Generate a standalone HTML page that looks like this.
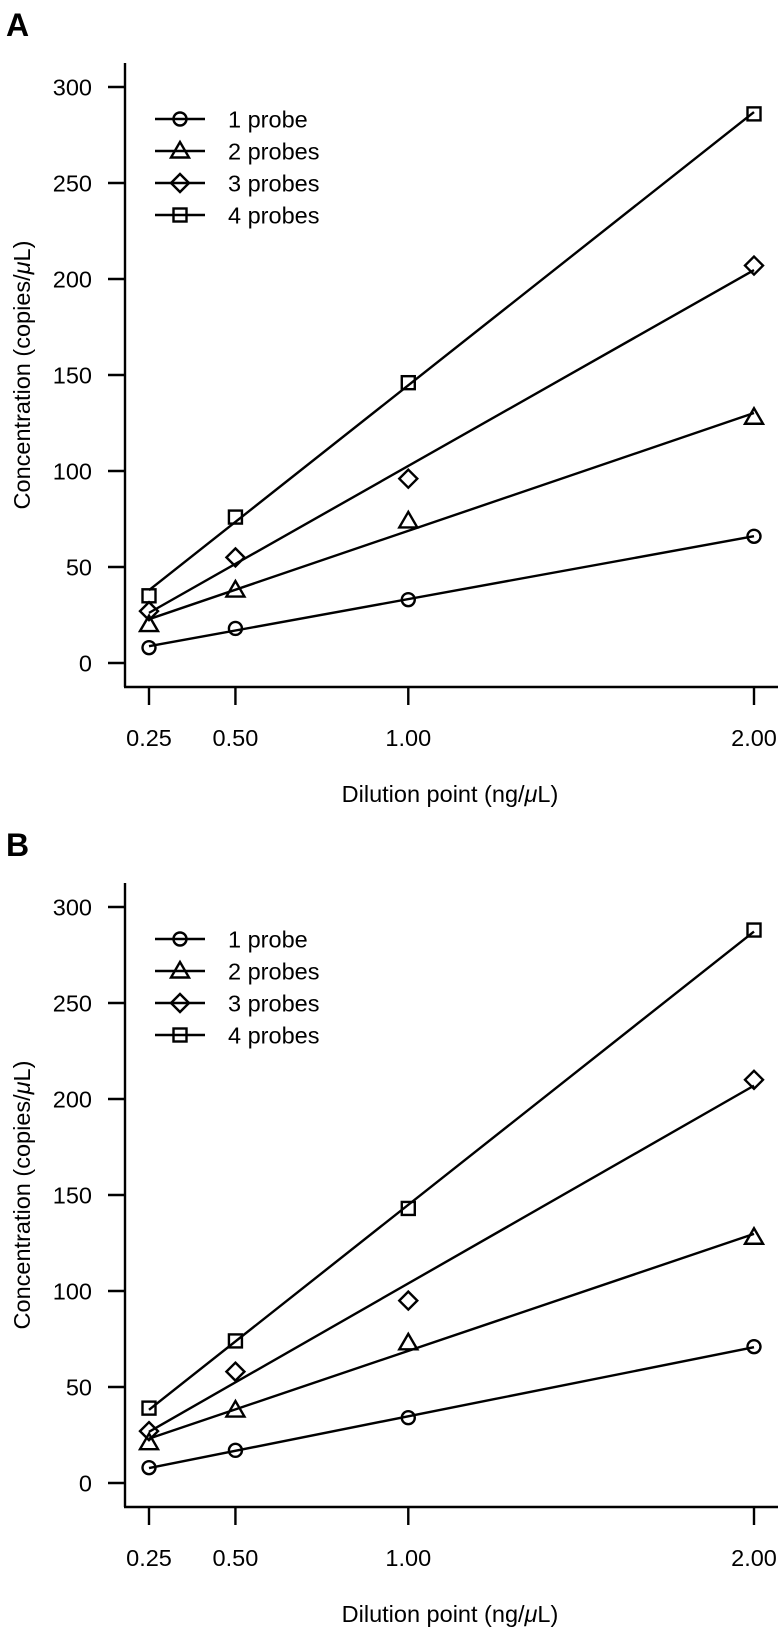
<!DOCTYPE html>
<html><head><meta charset="utf-8">
<style>
html,body{margin:0;padding:0;background:#fff;}
svg{display:block;font-family:"Liberation Sans",Arial,sans-serif;}
</style></head>
<body>
<svg id="chart" width="780" height="1634" viewBox="0 0 780 1634" xmlns="http://www.w3.org/2000/svg"></svg>
<script>
const dilutionPoints = [0.25, 0.5, 1.0, 2.0];
const xTickLabels = ["0.25", "0.50", "1.00", "2.00"];
const yTicks = [0, 50, 100, 150, 200, 250, 300];
const seriesNames = ["1 probe", "2 probes", "3 probes", "4 probes"];
const seriesMarkers = ["circle", "triangle", "diamond", "square"];
const panelLabels = ["A", "B"];
const panelA_probe1 = [8, 18, 33, 66];
const panelA_probe2 = [20, 38, 74, 128];
const panelA_probe3 = [27, 55, 96, 207];
const panelA_probe4 = [35, 76, 146, 286];
const panelB_probe1 = [8, 17, 34, 71];
const panelB_probe2 = [21, 38, 73, 128];
const panelB_probe3 = [27, 58, 95, 210];
const panelB_probe4 = [39, 74, 143, 288];
const panelData = [
  [panelA_probe1, panelA_probe2, panelA_probe3, panelA_probe4],
  [panelB_probe1, panelB_probe2, panelB_probe3, panelB_probe4]
];

const NS = "http://www.w3.org/2000/svg";
const svg = document.getElementById("chart");
function mk(tag, attrs, parent) {
  const e = document.createElementNS(NS, tag);
  for (const k in attrs) e.setAttribute(k, attrs[k]);
  (parent || svg).appendChild(e);
  return e;
}
const FS = 23.5, SW = 2.4;
const X0 = 149, X1 = 754;
function xs(v) { return X0 + (v - 0.25) * (X1 - X0) / 1.75; }
function marker(type, cx, cy, g) {
  let e;
  if (type === "circle") e = mk("circle", {cx: cx, cy: cy, r: 6.5}, g);
  else if (type === "square") e = mk("rect", {x: cx - 6.5, y: cy - 6.5, width: 13, height: 13}, g);
  else if (type === "triangle") e = mk("polygon", {points: `${cx},${cy-9} ${cx-9},${cy+6.5} ${cx+9},${cy+6.5}`}, g);
  else e = mk("polygon", {points: `${cx},${cy-9} ${cx+9},${cy} ${cx},${cy+9} ${cx-9},${cy}`}, g);
  e.setAttribute("fill", "none");
  e.setAttribute("stroke", "#000");
  e.setAttribute("stroke-width", SW);
  return e;
}
function fit(xv, yv) {
  const n = xv.length;
  const mx = xv.reduce((a, b) => a + b) / n, my = yv.reduce((a, b) => a + b) / n;
  let sxy = 0, sxx = 0;
  for (let i = 0; i < n; i++) { sxy += (xv[i] - mx) * (yv[i] - my); sxx += (xv[i] - mx) ** 2; }
  const b = sxy / sxx;
  return [my - b * mx, b];
}

panelData.forEach((series, p) => {
  const off = p * 820;
  const Y0 = 663 + off, Y300 = 87 + off;
  const ys = v => Y0 - v * (Y0 - Y300) / 300;
  const g = mk("g", {});
  
  

  const lab = mk("text", {x: 6, y: 36 + off, "font-size": 32, "font-weight": "bold"}, g);
  lab.textContent = panelLabels[p];
  
  

  const ya = mk("line", {x1: 125, y1: 63 + off, x2: 125, y2: 687 + off, stroke: "#000", "stroke-width": SW}, g);
  
  
  const xa = mk("line", {x1: 124, y1: 687 + off, x2: 778, y2: 687 + off, stroke: "#000", "stroke-width": SW}, g);
  
  

  yTicks.forEach(t => {
    mk("line", {x1: 108, y1: ys(t), x2: 125, y2: ys(t), stroke: "#000", "stroke-width": SW}, g);
    const tl = mk("text", {x: 92, y: ys(t) + 8.5, "font-size": FS, "text-anchor": "end"}, g);
    tl.textContent = t;
    
    
  });
  dilutionPoints.forEach((d, i) => {
    mk("line", {x1: xs(d), y1: 687 + off, x2: xs(d), y2: 705 + off, stroke: "#000", "stroke-width": SW}, g);
    const tl = mk("text", {x: xs(d), y: 746 + off, "font-size": FS, "text-anchor": "middle"}, g);
    tl.textContent = xTickLabels[i];
    
    
  });
  const xt = mk("text", {x: 450, y: 802 + off, "font-size": FS, "text-anchor": "middle"}, g);
  xt.innerHTML = 'Dilution point (ng/<tspan font-style="italic">μ</tspan>L)';
  
  
  const yt = mk("text", {x: 0, y: 0, "font-size": FS, "text-anchor": "middle", transform: `translate(30,${375 + off}) rotate(-90)`}, g);
  yt.innerHTML = 'Concentration (copies/<tspan font-style="italic">μ</tspan>L)';
  
  

  series.forEach((vals, s) => {
    const sg = mk("g", {}, g);
    
    
    const [a, b] = fit(dilutionPoints, vals);
    const xa0 = dilutionPoints[0], xa1 = dilutionPoints[dilutionPoints.length - 1];
    const ln = mk("line", {x1: xs(xa0), y1: ys(a + b * xa0), x2: xs(xa1), y2: ys(a + b * xa1), stroke: "#000", "stroke-width": SW}, sg);
    
    
    vals.forEach((v, i) => {
      const m = marker(seriesMarkers[s], xs(dilutionPoints[i]), ys(v), sg);
      
      
    });
  });

  const lg = mk("g", {}, g);
  
  
  seriesNames.forEach((nm, s) => {
    const cy = 119 + s * 32 + off;
    const eg = mk("g", {}, lg);
    
    
    mk("line", {x1: 155, y1: cy, x2: 205, y2: cy, stroke: "#000", "stroke-width": SW}, eg);
    marker(seriesMarkers[s], 180, cy, eg);
    const t = mk("text", {x: 228, y: cy + 8.5, "font-size": FS}, eg);
    t.textContent = nm;
  });
});
</script>
</body></html>
